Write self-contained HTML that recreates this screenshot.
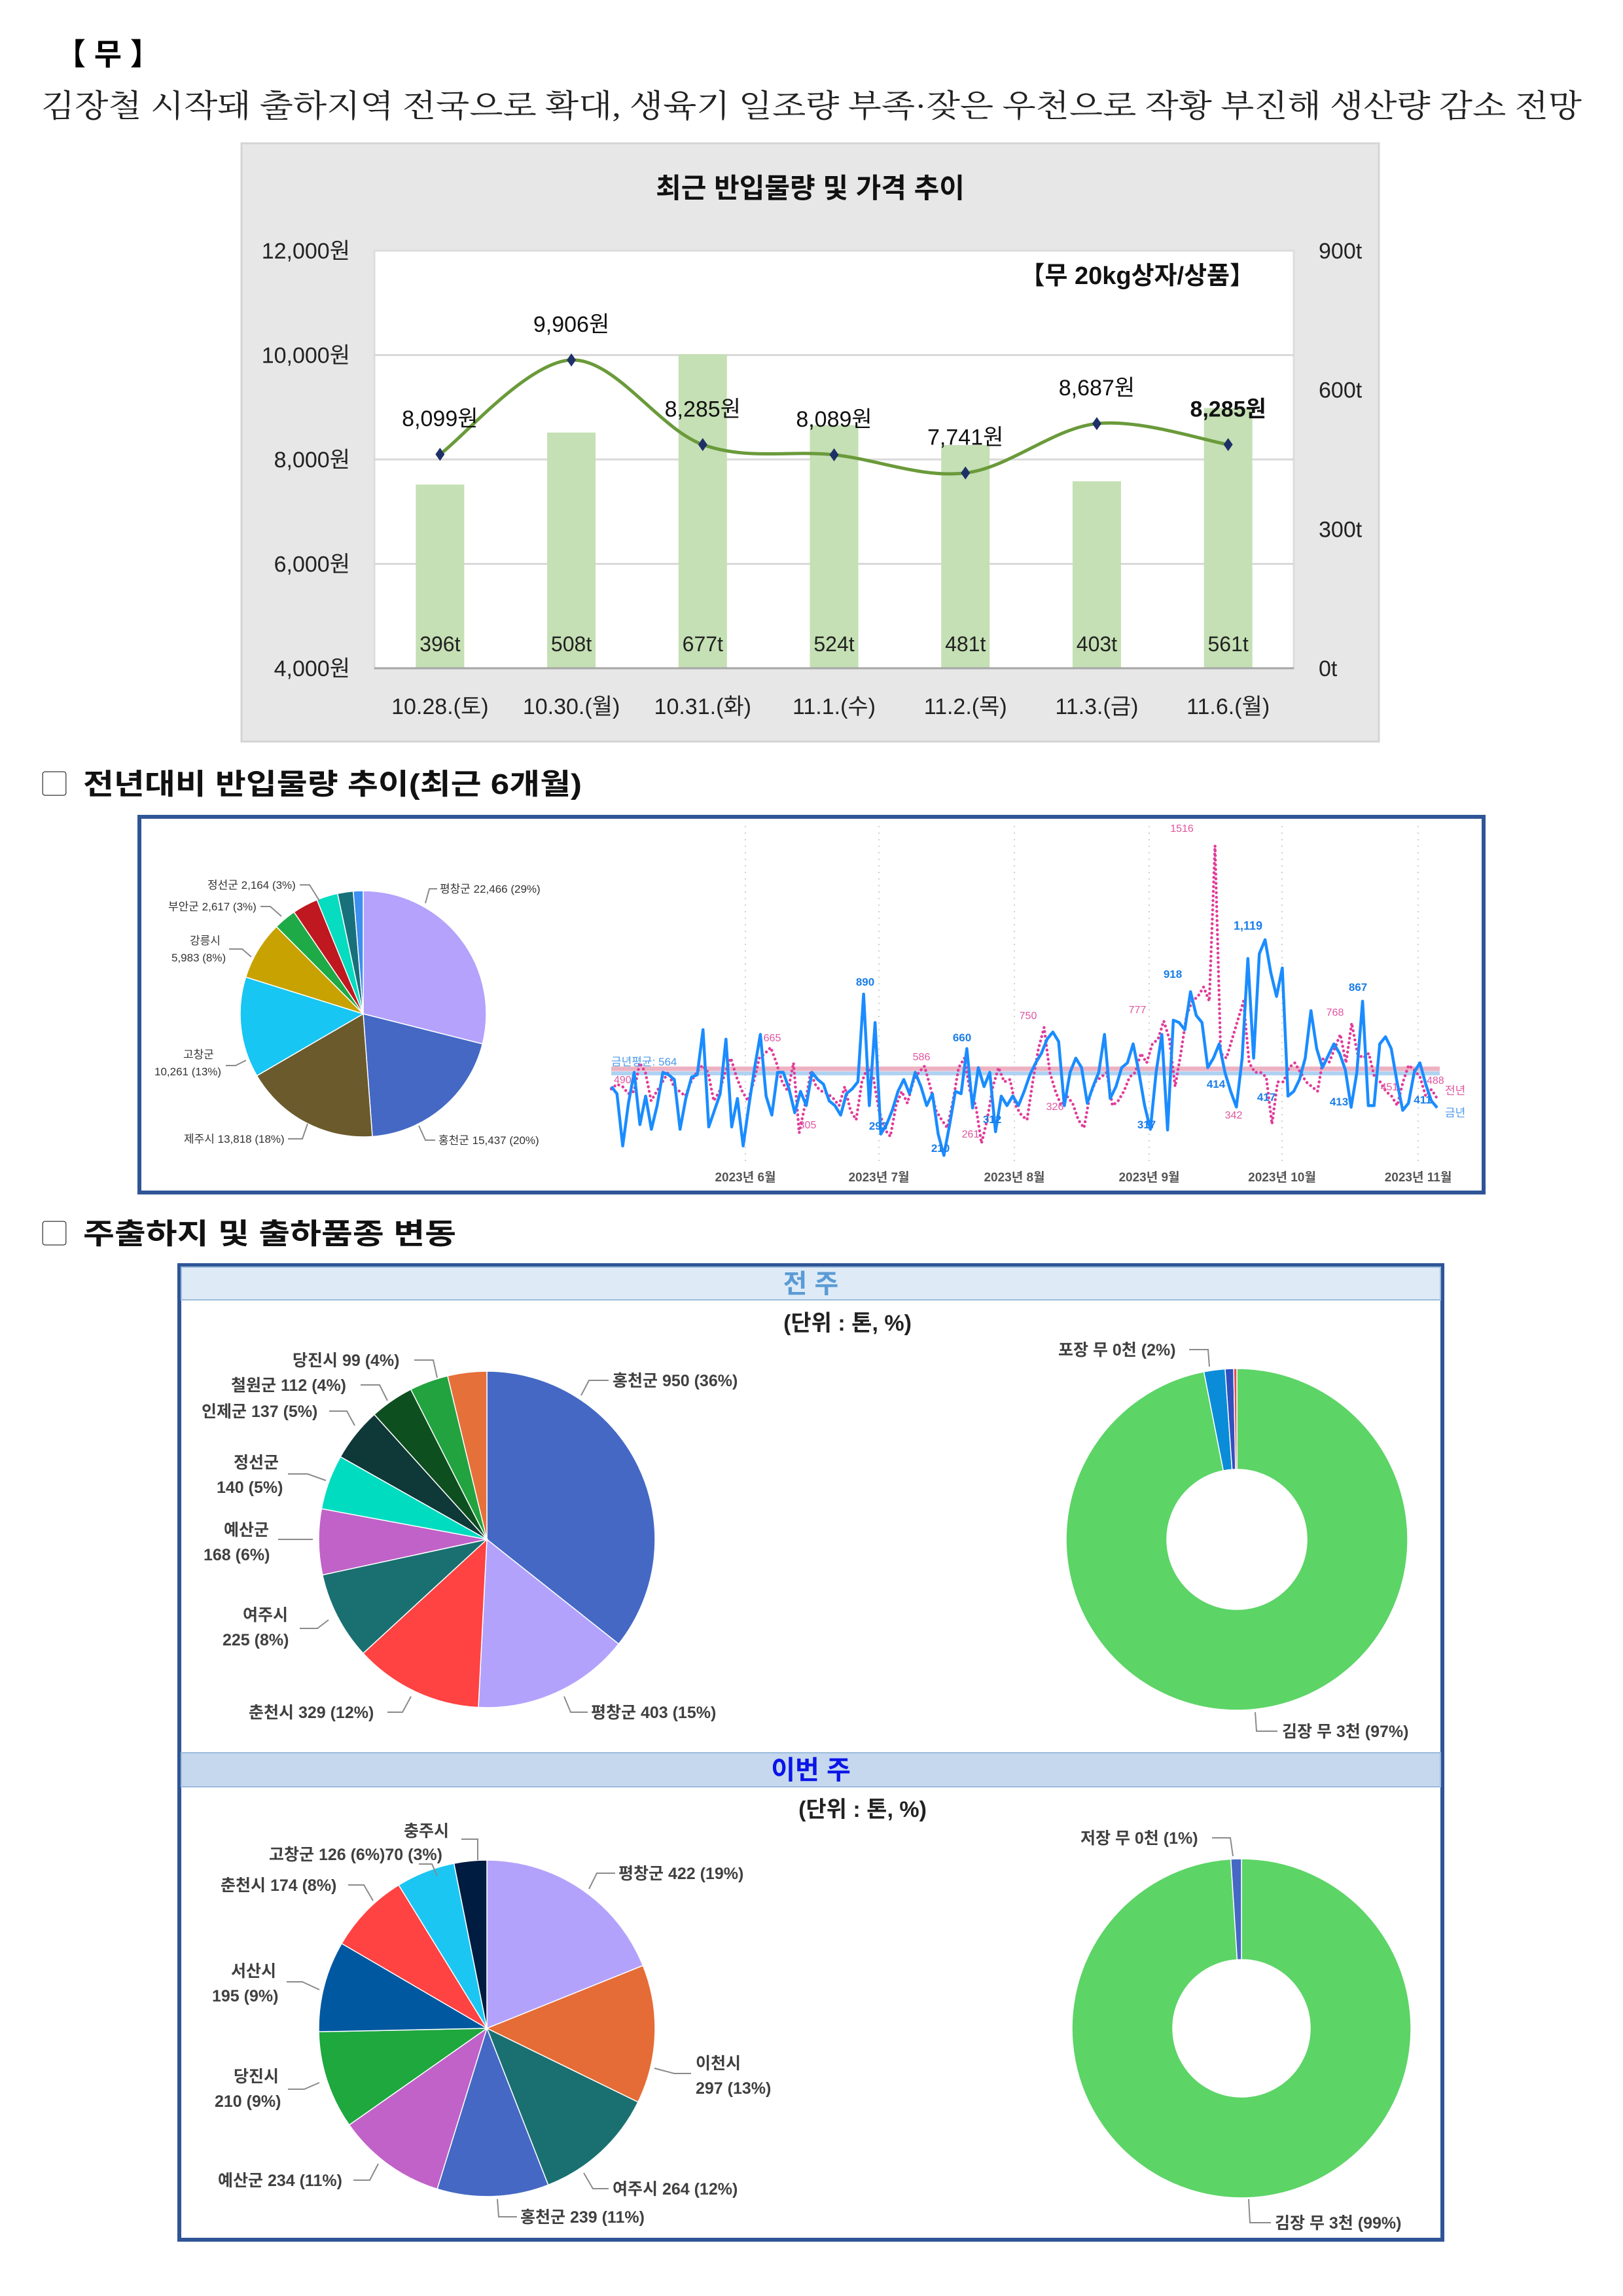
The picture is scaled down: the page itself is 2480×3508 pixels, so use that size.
<!DOCTYPE html>
<html><head><meta charset="utf-8">
<style>
html,body{margin:0;padding:0;background:#fff;}
svg{display:block;}
text{font-family:"Liberation Sans","Noto Sans CJK KR",sans-serif;}
.serif{font-family:"Liberation Serif","Noto Serif CJK SC",serif;}
</style></head>
<body>
<svg id="page" width="2480" height="3508" viewBox="0 0 2480 3508" xmlns="http://www.w3.org/2000/svg">
<text x="85" y="99" font-size="46" font-weight="bold" fill="#000">【 무 】</text>
<text class="serif" x="63" y="178" font-size="48" fill="#222" textLength="2354" lengthAdjust="spacingAndGlyphs">김장철 시작돼 출하지역 전국으로 확대, 생육기 일조량 부족·잦은 우천으로 작황 부진해 생산량 감소 전망</text>

<g id="topChart">
<rect x="369" y="219" width="1738" height="914" fill="#e7e7e7" stroke="#d4d4d4" stroke-width="3"/>
<text x="1238" y="302" font-size="42" font-weight="bold" text-anchor="middle" fill="#111">최근 반입물량 및 가격 추이</text>
<rect x="572" y="383" width="1405" height="638" fill="#fff" stroke="#dcdcdc" stroke-width="3"/>
<text x="1917" y="434" font-size="38" font-weight="bold" text-anchor="end" fill="#111">【무 20kg상자/상품】</text>
</g>

<text x="63" y="1212" font-size="40" fill="#333">▢</text>
<text x="127" y="1213" font-size="44" font-weight="bold" fill="#111" textLength="762" lengthAdjust="spacingAndGlyphs">전년대비  반입물량  추이(최근  6개월)</text>

<rect x="213" y="1248" width="2054" height="574" fill="#fff" stroke="#2f5597" stroke-width="6"/>
<g id="midPie"></g>
<g id="midLine"></g>

<text x="63" y="1899" font-size="40" fill="#333">▢</text>
<text x="127" y="1900" font-size="44" font-weight="bold" fill="#111" textLength="570" lengthAdjust="spacingAndGlyphs">주출하지  및  출하품종  변동</text>

<rect x="274" y="1933" width="1930" height="1489" fill="#fff" stroke="#2f5597" stroke-width="6"/>
<rect x="277" y="1936" width="1924" height="50" fill="#deebf7" stroke="#9dbbdc" stroke-width="2"/>
<text x="1239" y="1975" font-size="40" font-weight="bold" text-anchor="middle" fill="#5b9bd5">전 주</text>
<rect x="277" y="2678" width="1924" height="52" fill="#c5d8ee" stroke="#9dbbdc" stroke-width="2"/>
<text x="1239" y="2718" font-size="40" font-weight="bold" text-anchor="middle" fill="#0a14e8">이번 주</text>
<text x="1295" y="2033" font-size="34" font-weight="bold" text-anchor="middle" fill="#222">(단위 : 톤, %)</text>
<text x="1318" y="2776" font-size="34" font-weight="bold" text-anchor="middle" fill="#222">(단위 : 톤, %)</text>
<g id="bottomCharts"></g>
</svg>

<script>
// ---------- top chart data ----------
const dates = ["10.28.(토)","10.30.(월)","10.31.(화)","11.1.(수)","11.2.(목)","11.3.(금)","11.6.(월)"];
const volumes = [396,508,677,524,481,403,561];
const prices = [8099,9906,8285,8089,7741,8687,8285];
const priceTicks = [4000,6000,8000,10000,12000];
const volTicks = [0,300,600,900];

// ---------- middle pie data ----------
const midPieLabels = ["평창군","홍천군","제주시","고창군","강릉시","기타1","부안군","정선군","기타2","기타3"];
const midPieValues = [22466,15437,13818,10261,5983,2300,2617,2164,1600,1000];

// ---------- middle line data ----------
const thisYear = [500,470,250,430,560,340,460,320,420,560,550,530,320,450,540,550,740,330,400,470,700,330,450,250,420,580,720,460,380,560,560,490,390,480,420,560,530,510,440,420,380,470,490,520,890,420,770,300,340,400,480,530,470,560,500,420,470,300,210,340,480,470,660,410,580,500,560,310,460,420,460,420,480,550,600,640,700,730,690,420,560,620,580,430,500,560,720,450,500,580,600,680,560,420,320,560,720,317,780,770,740,900,800,770,580,620,680,560,480,414,620,1040,620,1060,1119,980,880,1000,460,480,530,620,820,660,580,630,680,640,570,413,560,860,420,420,680,710,660,520,400,430,560,600,511,440,411];
const lastYear = [490,510,500,470,480,600,560,440,480,520,560,500,480,460,520,560,590,560,440,480,560,620,540,480,440,520,620,640,665,600,520,480,600,305,420,560,500,480,470,450,420,500,400,360,520,580,540,400,320,290,420,480,430,520,560,586,500,400,360,326,440,580,620,480,420,261,360,500,580,520,530,420,380,360,520,660,750,560,480,420,460,430,360,326,460,520,540,560,420,440,480,540,560,640,600,680,700,777,700,500,640,800,860,880,920,860,1516,640,620,700,780,860,600,560,560,540,342,520,520,580,600,560,520,500,480,620,600,660,720,600,768,640,620,640,540,520,480,460,420,520,590,570,540,460,488,450];
const avgThisYear = 564;
const avgLastYear = 575;
const monthLabels = ["2023년 6월","2023년 7월","2023년 8월","2023년 9월","2023년 10월","2023년 11월"];

// ---------- bottom pies ----------
const lwLabels = ["홍천군","평창군","춘천시","여주시","예산군","정선군","인제군","철원군","당진시","기타"];
const lwValues = [950,403,329,225,168,140,137,112,99,100];
const lwVarLabels = ["김장 무","포장 무","저장 무","기타"];
const lwVarValues = [97,2,0.8,0.3];
const twLabels = ["평창군","이천시","여주시","홍천군","예산군","당진시","서산시","춘천시","고창군","충주시"];
const twValues = [422,297,264,239,234,210,195,174,126,70];
const twVarLabels = ["김장 무","저장 무"];
const twVarValues = [99,1];

const NS="http://www.w3.org/2000/svg";
function mk(tag, attrs, parent){const e=document.createElementNS(NS,tag);for(const k in attrs)e.setAttribute(k,attrs[k]);parent.appendChild(e);return e;}

// ===== top chart =====
(function(){
 const g=document.getElementById('topChart');
 const L=572,R=1977,T=383,B=1021;
 const yP=v=>B-(v-4000)/8000*(B-T);
 const yV=v=>B-v/900*(B-T);
 const xC=i=>L+(i+0.5)*(R-L)/dates.length;
 priceTicks.forEach(v=>{
  if(v>4000&&v<12000){const l=mk('line',{x1:L,x2:R,y1:yP(v),y2:yP(v),stroke:'#d9d9d9','stroke-width':3},g);
  
  }
  const t=mk('text',{x:535,y:yP(v)+12,'font-size':34,'text-anchor':'end',fill:'#222'},g);t.textContent=v.toLocaleString('en-US')+'원';
  
  
 });
 volTicks.forEach(v=>{
  const t=mk('text',{x:2015,y:yV(v)+12,'font-size':34,fill:'#222'},g);t.textContent=v+'t';
  
  
 });
 volumes.forEach((v,i)=>{
  const r=mk('rect',{x:xC(i)-37,y:yV(v),width:74,height:B-yV(v),fill:'#c5e0b4'},g);
  
  
  const t=mk('text',{x:xC(i),y:995,'font-size':32,'text-anchor':'middle',fill:'#222'},g);t.textContent=v+'t';
  
  
  const d=mk('text',{x:xC(i),y:1091,'font-size':34,'text-anchor':'middle',fill:'#222'},g);d.textContent=dates[i];
  
  
 });
 const ax=mk('line',{x1:L,x2:R,y1:B,y2:B,stroke:'#a6a6a6','stroke-width':3},g);
 
 
 const pts=prices.map((p,i)=>[xC(i),yP(p)]);
 let d='M'+pts[0][0]+','+pts[0][1];
 for(let i=0;i<pts.length-1;i++){
  const p0=pts[i-1]||pts[i],p1=pts[i],p2=pts[i+1],p3=pts[i+2]||p2;const k=1/6;
  d+=' C'+(p1[0]+(p2[0]-p0[0])*k)+','+(p1[1]+(p2[1]-p0[1])*k)+' '+(p2[0]-(p3[0]-p1[0])*k)+','+(p2[1]-(p3[1]-p1[1])*k)+' '+p2[0]+','+p2[1];
 }
 const pl=mk('path',{d:d,fill:'none',stroke:'#6a9a3a','stroke-width':5},g);
 
 
 pts.forEach((p,i)=>{
  const m=mk('polygon',{points:`${p[0]},${p[1]-10} ${p[0]+7},${p[1]} ${p[0]},${p[1]+10} ${p[0]-7},${p[1]}`,fill:'#1f3068'},g);
  
  
  const last=i===prices.length-1;
  const t=mk('text',{x:p[0],y:p[1]-43,'font-size':34,'text-anchor':'middle',fill:'#111','font-weight':last?'bold':'normal'},g);
  t.textContent=prices[i].toLocaleString('en-US')+'원';
  
  
 });
})();

function arcPath(cx,cy,r,ri,a0,a1){
 const p=(a,rr)=>[cx+rr*Math.sin(a),cy-rr*Math.cos(a)];
 const lg=(a1-a0)>Math.PI?1:0;
 const s=p(a0,r),e=p(a1,r);
 if(ri>0){const si=p(a1,ri),ei=p(a0,ri);
  return `M${s[0]},${s[1]} A${r},${r} 0 ${lg} 1 ${e[0]},${e[1]} L${si[0]},${si[1]} A${ri},${ri} 0 ${lg} 0 ${ei[0]},${ei[1]} Z`;}
 return `M${cx},${cy} L${s[0]},${s[1]} A${r},${r} 0 ${lg} 1 ${e[0]},${e[1]} Z`;
}
function drawPie(g,cx,cy,r,ri,vals,cols,name){
 const tot=vals.reduce((a,b)=>a+b,0);let a=0;
 vals.forEach((v,i)=>{const a1=a+v/tot*2*Math.PI;
  const p=mk('path',{d:arcPath(cx,cy,r,ri,a,a1),fill:cols[i],stroke:'#fff','stroke-width':1.5},g);
  
  
  a=a1;});
}
function label(g,x,y,txt,size,color,weight,anchor){
 const t=mk('text',{x:x,y:y+size*0.36,'font-size':size,fill:color||'#404040','font-weight':weight||'bold','text-anchor':anchor||'start'},g);
 t.textContent=txt;
 
 
 return t;
}
function leader(g,pts){const l=mk('polyline',{points:pts,fill:'none',stroke:'#8a8a8a','stroke-width':2},g);
 
 }

// ===== middle pie =====
(function(){
 const g=document.getElementById('midPie');
 drawPie(g,555,1549,188,0,midPieValues,['#b4a2fc','#4468c4','#6b5a2b','#17c6f2','#c8a200','#1eaa46','#bf1820','#05dcc0','#18707a','#3d8ff0'],'pie-slice');
 const c='#333';
 label(g,317,1352,'정선군 2,164 (3%)',17,c,'normal');leader(g,'458,1352 473,1352 488,1376');
 label(g,257,1385,'부안군 2,617 (3%)',17,c,'normal');leader(g,'398,1385 413,1385 430,1400');
 label(g,290,1437,'강릉시',17,c,'normal');label(g,262,1463,'5,983 (8%)',17,c,'normal');leader(g,'350,1450 370,1450 384,1462');
 label(g,280,1611,'고창군',17,c,'normal');label(g,236,1637,'10,261 (13%)',17,c,'normal');leader(g,'345,1628 360,1628 376,1620');
 label(g,281,1740,'제주시 13,818 (18%)',17,c,'normal');leader(g,'440,1740 462,1740 470,1717');
 label(g,670,1742,'홍천군 15,437 (20%)',17,c,'normal');leader(g,'665,1742 650,1742 640,1720');
 label(g,672,1358,'평창군 22,466 (29%)',17,c,'normal');leader(g,'668,1358 656,1358 650,1380');
})();

// ===== middle line chart =====
(function(){
 const g=document.getElementById('midLine');
 const x0=934,x1=2196,yAvg=1637,sc=0.3625;
 const yv=v=>yAvg-(v-avgThisYear)*sc;
 const monthX=[1139,1343,1550,1756,1959,2167];
 monthX.forEach((x,i)=>{
  const l=mk('line',{x1:x,x2:x,y1:1262,y2:1775,stroke:'#cfcfcf','stroke-width':2,'stroke-dasharray':'2 8'},g);
  
  
  const t=mk('text',{x:x,y:1805,'font-size':19,'font-weight':'bold','text-anchor':'middle',fill:'#555'},g);t.textContent=monthLabels[i];
  
  
 });
 const la=mk('line',{x1:x0,x2:2200,y1:yv(avgLastYear),y2:yv(avgLastYear),stroke:'#e8a0b4','stroke-width':7,opacity:0.8},g);
 
 
 const ta=mk('line',{x1:x0,x2:2200,y1:yv(avgThisYear)+3,y2:yv(avgThisYear)+3,stroke:'#9cc8f0','stroke-width':6,opacity:0.8},g);
 
 
 const px=(arr,i)=>x0+i*(x1-x0)/(arr.length-1);
 const lp=mk('polyline',{points:lastYear.map((v,i)=>px(lastYear,i)+','+yv(v)).join(' '),fill:'none',stroke:'#e03c9a','stroke-width':4.5,'stroke-linecap':'round','stroke-dasharray':'0.1 7'},g);
 
 
 const tp=mk('polyline',{points:thisYear.map((v,i)=>px(thisYear,i)+','+yv(v)).join(' '),fill:'none',stroke:'#1a8cff','stroke-width':4.5,'stroke-linejoin':'round'},g);
 
 
 const pink='#e0559f',blue='#1a7de8';
 label(g,934,1622,'금년평균: 564',17,'#4a9ae8','normal');
 label(g,938,1649,'490',16,pink,'normal');
 label(g,1180,1585,'665',16,pink,'normal','middle');
 label(g,1322,1500,'890',17,blue,'bold','middle');
 label(g,1408,1614,'586',16,pink,'normal','middle');
 label(g,1470,1585,'660',17,blue,'bold','middle');
 label(g,1571,1551,'750',16,pink,'normal','middle');
 label(g,1738,1542,'777',16,pink,'normal','middle');
 label(g,1806,1265,'1516',16,pink,'normal','middle');
 label(g,1792,1488,'918',17,blue,'bold','middle');
 label(g,1907,1414,'1,119',18,blue,'bold','middle');
 label(g,2075,1508,'867',17,blue,'bold','middle');
 label(g,2040,1546,'768',16,pink,'normal','middle');
 label(g,1234,1718,'305',16,pink,'normal','middle');
 label(g,1342,1720,'293',17,blue,'bold','middle');
 label(g,1437,1754,'210',17,blue,'bold','middle');
 label(g,1483,1732,'261',16,pink,'normal','middle');
 label(g,1516,1710,'312',17,blue,'bold','middle');
 label(g,1612,1690,'326',16,pink,'normal','middle');
 label(g,1752,1718,'317',17,blue,'bold','middle');
 label(g,1858,1656,'414',17,blue,'bold','middle');
 label(g,1885,1703,'342',16,pink,'normal','middle');
 label(g,1935,1676,'417',17,blue,'bold','middle');
 label(g,2046,1683,'413',17,blue,'bold','middle');
 label(g,2123,1660,'451',16,pink,'normal','middle');
 label(g,2174,1680,'411',17,blue,'bold','middle');
 label(g,2180,1650,'488',16,pink,'normal');
 label(g,2208,1666,'전년',17,pink,'normal');
 label(g,2208,1700,'금년',17,'#4a9ae8','normal');
})();

// ===== bottom charts =====
(function(){
 const g=document.getElementById('bottomCharts');
 drawPie(g,744,2352,257,0,lwValues,['#4468c4','#b3a2fc','#ff4242','#1a7070','#c062c8','#00dcc0','#0f3838','#0e4f20','#22a33f','#e6703a'],'last-week-origin-slice');
 drawPie(g,1890,2352,261,107,lwVarValues,['#5cd466','#0a8cd8','#3050c0','#e05050'],'last-week-variety-slice');
 drawPie(g,744,3099,257,0,twValues,['#b3a2fc','#e56c36','#1a7070','#4468c4','#c062c8','#1ea83e','#0058a0','#ff4242','#1cc6f2','#001c40'],'this-week-origin-slice');
 drawPie(g,1897,3099,259,105,twVarValues,['#5cd466','#4468c4'],'this-week-variety-slice');
 const s=25,c='#404040';
 label(g,447,2078,'당진시 99 (4%)',s,c);leader(g,'633,2078 662,2078 668,2105');
 label(g,353,2116,'철원군 112 (4%)',s,c);leader(g,'551,2116 580,2116 592,2140');
 label(g,308,2156,'인제군 137 (5%)',s,c);leader(g,'503,2156 530,2156 542,2178');
 label(g,357,2234,'정선군',s,c);label(g,331,2272,'140 (5%)',s,c);leader(g,'440,2252 470,2252 498,2262');
 label(g,342,2337,'예산군',s,c);label(g,311,2375,'168 (6%)',s,c);leader(g,'425,2352 478,2352');
 label(g,371,2467,'여주시',s,c);label(g,340,2505,'225 (8%)',s,c);leader(g,'458,2488 485,2488 502,2475');
 label(g,380,2616,'춘천시 329 (12%)',s,c);leader(g,'592,2616 615,2616 628,2592');
 label(g,903,2616,'평창군 403 (15%)',s,c);leader(g,'898,2616 872,2616 862,2592');
 label(g,936,2109,'홍천군 950 (36%)',s,c);leader(g,'930,2109 900,2109 888,2132');
 label(g,1617,2062,'포장 무 0천 (2%)',s,c);leader(g,'1817,2062 1846,2062 1848,2088');
 label(g,1959,2645,'김장 무 3천 (97%)',s,c);leader(g,'1952,2645 1920,2645 1918,2616');
 label(g,617,2797,'충주시',s,c);leader(g,'705,2810 730,2810 730,2842');
 label(g,411,2833,'고창군 126 (6%)70 (3%)',s,c);leader(g,'640,2848 660,2848 668,2866');
 label(g,337,2880,'춘천시 174 (8%)',s,c);leader(g,'532,2880 556,2880 570,2904');
 label(g,353,3011,'서산시',s,c);label(g,324,3049,'195 (9%)',s,c);leader(g,'438,3028 462,3028 488,3040');
 label(g,357,3172,'당진시',s,c);label(g,328,3210,'210 (9%)',s,c);leader(g,'440,3192 465,3192 488,3182');
 label(g,333,3331,'예산군 234 (11%)',s,c);leader(g,'540,3331 565,3331 578,3306');
 label(g,795,3387,'홍천군 239 (11%)',s,c);leader(g,'790,3387 762,3387 760,3360');
 label(g,936,3344,'여주시 264 (12%)',s,c);leader(g,'930,3344 906,3344 892,3320');
 label(g,1063,3152,'이천시',s,c);label(g,1063,3190,'297 (13%)',s,c);leader(g,'1056,3168 1030,3168 1000,3160');
 label(g,945,2862,'평창군 422 (19%)',s,c);leader(g,'940,2862 912,2862 900,2886');
 label(g,1651,2808,'저장 무 0천 (1%)',s,c);leader(g,'1852,2808 1880,2808 1884,2836');
 label(g,1948,3396,'김장 무 3천 (99%)',s,c);leader(g,'1942,3396 1910,3396 1908,3360');
})();
</script>
</body></html>
